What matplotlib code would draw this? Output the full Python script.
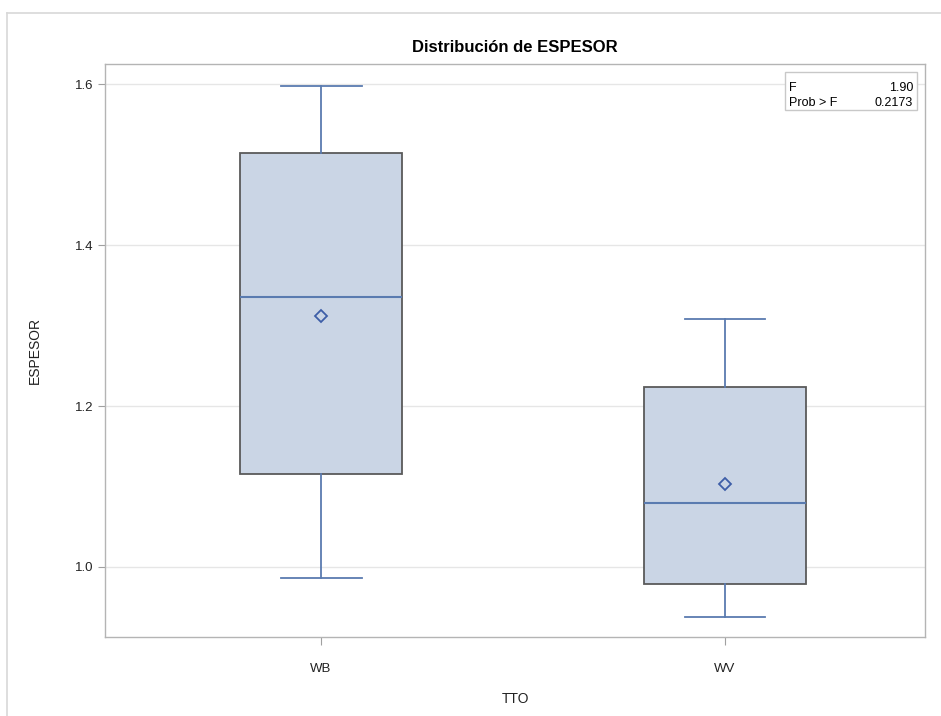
import matplotlib
matplotlib.use("Agg")
import matplotlib.pyplot as plt
from matplotlib.lines import Line2D
from matplotlib.patches import Rectangle

# data (SAS boxplot)
groups = ["WB", "WV"]
whislo = [0.986, 0.938]
q1 = [1.116, 0.979]
med = [1.335, 1.080]
mean = [1.312, 1.103]
q3 = [1.514, 1.224]
whishi = [1.598, 1.308]
yticks = [1.0, 1.2, 1.4, 1.6]
f_value = "1.90"
prob_f = "0.2173"

plt.rcParams['font.family'] = ['Liberation Sans', 'DejaVu Sans']

fill = "#cad5e5"
edge = "#5a5a5a"
blue = "#5a7bb0"

fig = plt.figure(figsize=(9.41, 7.16), dpi=100)
ax = fig.add_axes([105 / 941, 1 - 637 / 716, 820 / 941, (637 - 64) / 716])

stats = []
for i, g in enumerate(groups):
    stats.append(dict(label=g, whislo=whislo[i], q1=q1[i], med=med[i],
                      mean=mean[i], q3=q3[i], whishi=whishi[i], fliers=[]))

ax.bxp(stats, positions=range(len(groups)), widths=0.40, patch_artist=True,
       showmeans=True, capwidths=0.20,
       boxprops=dict(facecolor=fill, edgecolor=edge, linewidth=1.3),
       whiskerprops=dict(color=blue, linewidth=1.3),
       capprops=dict(color=blue, linewidth=1.3),
       medianprops=dict(color=blue, linewidth=1.5),
       meanprops=dict(marker="D", markerfacecolor="none", markeredgecolor="#3d5ea8",
                      markeredgewidth=1.3, markersize=6.5),
       zorder=3)

ax.set_xlim(-0.535, 1.495)
ax.set_ylim(0.913, 1.625)
ax.set_yticks(yticks)
ax.set_yticklabels([f"{t:.1f}" for t in yticks])
ax.grid(axis="y", color="#e6e6e6", linewidth=1.0, zorder=0)
ax.set_axisbelow(True)

for s in ax.spines.values():
    s.set_color("#b4b4b4")
    s.set_linewidth(1.0)
ax.tick_params(axis="y", length=5, color="#a0a0a0", labelsize=9.5, pad=3, labelcolor="#222222")
ax.tick_params(axis="x", length=6, color="#a0a0a0", labelsize=9.5, pad=13, labelcolor="#222222")

ax.set_title("Distribución de ESPESOR", fontsize=12, fontweight="bold", pad=9)
ax.set_xlabel("TTO", fontsize=10, labelpad=12, color="#222222")
ax.set_ylabel("ESPESOR", fontsize=10, labelpad=24, color="#222222")

# inset statistics box
bx0, by0 = 785 / 941, 1 - 110 / 716
bw, bh = 132 / 941, 38 / 716
fig.patches.append(Rectangle((bx0, by0), bw, bh, transform=fig.transFigure,
                             facecolor="white", edgecolor="#c8c8c8", linewidth=1.0, zorder=5))
fig.text(bx0 + 4 / 941, 1 - 88 / 716, "F", fontsize=9, va="center", ha="left", zorder=6)
fig.text(bx0 + bw - 4 / 941, 1 - 88 / 716, f_value, fontsize=9, va="center", ha="right", zorder=6)
fig.text(bx0 + 4 / 941, 1 - 103 / 716, "Prob > F", fontsize=9, va="center", ha="left", zorder=6)
fig.text(bx0 + bw - 4 / 941, 1 - 103 / 716, prob_f, fontsize=9, va="center", ha="right", zorder=6)

# light outer frame around the graph
fig.add_artist(Line2D([7 / 941, 7 / 941], [0, 1 - 13 / 716], transform=fig.transFigure,
                      color="#d8d8d8", linewidth=1.2))
fig.add_artist(Line2D([7 / 941, 1], [1 - 13 / 716, 1 - 13 / 716], transform=fig.transFigure,
                      color="#d8d8d8", linewidth=1.2))

fig.savefig("out.png", dpi=100)
